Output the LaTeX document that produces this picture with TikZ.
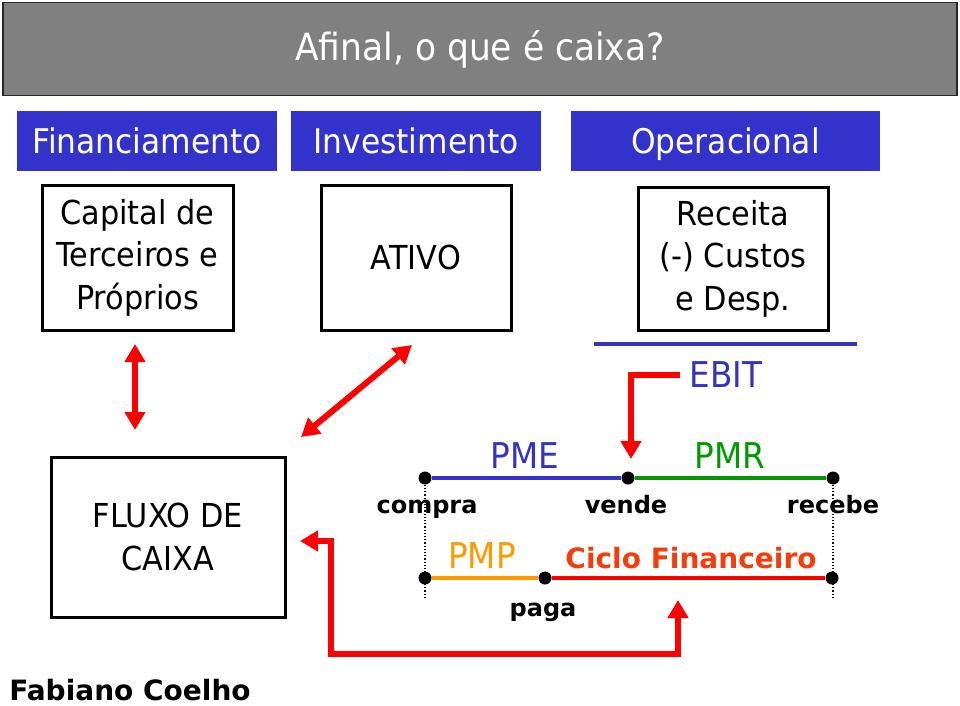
\documentclass[tikz,border=0pt]{standalone}
\usepackage{fontspec}
\setmainfont{DejaVu Sans}
\newfontfamily\narrowsans{DejaVu Sans}[FakeStretch=0.92]
\usepackage{tikz}
\usetikzlibrary{arrows.meta,positioning}

\begin{document}
\begin{tikzpicture}[
    x=1pt, y=-1pt,
    titlebar/.style={rectangle, draw=black!85, line width=1.5pt, fill=titlegray, minimum width=954pt, minimum height=93pt, text=white, font=\narrowsans\fontsize{37.5}{42}\selectfont},
    header/.style={rectangle, fill=headblue, minimum height=60pt, text height=25pt, text depth=0pt, text=white, font=\narrowsans\fontsize{34}{38}\selectfont},
    block/.style={rectangle, draw=black, line width=3pt, minimum width=190pt, minimum height=145pt, align=center, font=\narrowsans\fontsize{33}{42.5}\selectfont},
    dot/.style={circle, fill=black, inner sep=0pt, minimum size=13pt},
    eventlabel/.style={anchor=base, inner sep=0pt, font=\fontsize{24}{28}\selectfont\bfseries},
    period/.style={anchor=base, inner sep=0pt, font=\narrowsans\fontsize{35.5}{40}\selectfont},
    seg/.style={line width=4.5pt},
    guide/.style={line width=1.2pt, dotted},
    redarrow/.style={line width=6pt, draw=arrowred, {Triangle[width=20pt,length=18pt]}-{Triangle[width=20pt,length=18pt]}}
]

% Define colors
\definecolor{titlegray}{RGB}{128,128,128}   % title bar
\definecolor{headblue}{RGB}{51,51,204}      % header boxes
\definecolor{pmeblue}{RGB}{51,51,204}       % PME
\definecolor{ebitblue}{RGB}{51,51,190}      % EBIT
\definecolor{pmrgreen}{RGB}{0,153,0}        % PMR
\definecolor{pmporange}{RGB}{255,153,0}     % PMP
\definecolor{cicloorange}{RGB}{245,60,10}   % Ciclo Financeiro
\definecolor{arrowred}{RGB}{255,0,0}        % arrows

\useasboundingbox (0,0) rectangle (960,705);

% Title
\node[titlebar] (title) at (480,49) {Afinal, o que é caixa?};

% Headers
\node[header, minimum width=260pt] (financiamento) at (147,141) {Financiamento};
\node[header, minimum width=250pt] (investimento) at (416,141) {Investimento};
\node[header, minimum width=309pt] (operacional) at (725.5,141) {Operacional};

% Boxes
\node[block, minimum width=191pt] (capital) at (137.5,257.5) {Capital de\\Terceiros e\\Próprios};
\node[block] (ativo) at (416,257.5) {ATIVO};
\node[block, minimum height=143pt] (receita) at (733,258.5) {Receita\\(-) Custos\\e Desp.};
\node[block, minimum width=234pt, minimum height=160pt] (fluxo) at (168,537) {FLUXO DE\\CAIXA};

% EBIT
\coordinate (ebitL) at (594,344);
\coordinate (ebitR) at (857,344);
\draw[line width=4pt, draw=ebitblue] (ebitL) -- (ebitR);
\node[period, text=ebitblue] (ebit) at (726,387) {EBIT};

% Time line
\node[dot] (compra) at (425,478) {};
\node[dot] (vende) at (628,478) {};
\node[dot] (recebe) at (833,478) {};
\node[dot] (compra2) at (425,578) {};
\node[dot] (paga) at (545,578) {};
\node[dot] (recebe2) at (832,578) {};
\coordinate (compraEnd) at (425,597);
\coordinate (recebeEnd) at (833,597);

\draw[guide] (compra) -- (compraEnd);
\draw[guide] (recebe) -- (recebeEnd);
\draw[seg, pmeblue] (compra) -- (vende);
\draw[seg, pmrgreen] (vende) -- (recebe);
\draw[seg, pmporange] (compra2) -- (paga);
\draw[seg, arrowred] (paga) -- (recebe2);

% Labels
\node[period, text=pmeblue] (pme) at (525,468) {PME};
\node[period, text=pmrgreen] (pmr) at (730,468) {PMR};
\node[period, text=pmporange] (pmp) at (482,568) {PMP};
\node[anchor=base, inner sep=0pt, font=\fontsize{28}{32}\selectfont\bfseries, text=cicloorange] (ciclo) at (691,568) {Ciclo Financeiro};
\node[eventlabel] (lcompra) at (427,513) {compra};
\node[eventlabel] (lvende) at (626,513) {vende};
\node[eventlabel] (lrecebe) at (833,513) {recebe};
\node[eventlabel] (lpaga) at (543,616) {paga};

% Arrows
\coordinate (capTop) at (135,344);
\coordinate (capBot) at (135,430);
\coordinate (ativoTop) at (412,345);
\coordinate (ativoBot) at (301,437);
\coordinate (ebitStart) at (680,375);
\coordinate (ebitTip) at (631,459);
\coordinate (fluxoTip) at (300,541);
\coordinate (loopCorner) at (331,654);
\coordinate (cicloTip) at (678,600);

\draw[redarrow] (capTop) -- (capBot);
\draw[redarrow] (ativoTop) -- (ativoBot);
\draw[line width=6pt, draw=arrowred, -{Triangle[width=20pt,length=18pt]}] (ebitStart) -| (ebitTip);
\draw[redarrow] (fluxoTip) -| (loopCorner) -| (cicloTip);

% Author
\node[font=\fontsize{28}{32}\selectfont\bfseries, anchor=base, inner sep=0pt] (author) at (130,700) {Fabiano Coelho};

\end{tikzpicture}
\end{document}
